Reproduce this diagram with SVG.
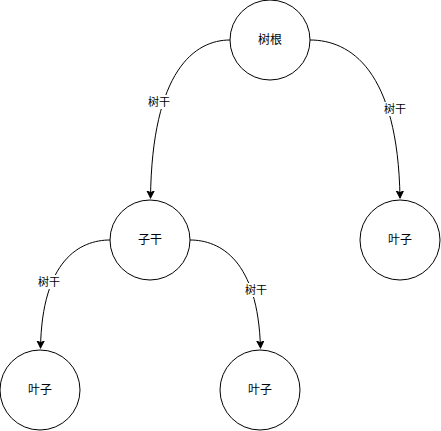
<svg xmlns="http://www.w3.org/2000/svg" width="441" height="431" viewBox="0 0 441 431">
<defs>
<marker id="arr" markerUnits="userSpaceOnUse" markerWidth="10" markerHeight="10" refX="7" refY="4" orient="auto">
<path d="M7,4 L0,0.5 L1.8,4 L0,7.5 Z" fill="#000" stroke="#000" stroke-width="1"/>
</marker>
<style>
.node circle{fill:#fff;stroke:#000;stroke-width:1}
.node text{font-family:"Liberation Sans","Noto Sans CJK SC",sans-serif;font-size:12px;fill:#000;text-anchor:middle;dominant-baseline:central}
.edge path{fill:none;stroke:#000;stroke-width:1;marker-end:url(#arr)}
.lbl rect{fill:#fff}
.lbl text{font-family:"Liberation Sans","Noto Sans CJK SC",sans-serif;font-size:11px;fill:#000;text-anchor:middle;dominant-baseline:central}
</style>
</defs>
<rect width="441" height="431" fill="#fff"/>
<g id="connectors">
<g class="edge"><path d="M230,40 C195,40 152,70 150.5,198"/></g>
<g class="edge"><path d="M310,40 C350,40 398,70 400,198"/></g>
<g class="edge"><path d="M110,240 C80,240 42,260 40.5,348"/></g>
<g class="edge"><path d="M190,240 C220,240 258,260 260.5,348"/></g>
<g class="lbl"><rect x="147" y="95" width="24" height="14"/><text x="159" y="102">树干</text></g>
<g class="lbl"><rect x="383" y="102" width="24" height="14"/><text x="395" y="109">树干</text></g>
<g class="lbl"><rect x="37" y="275" width="24" height="14"/><text x="49" y="282">树干</text></g>
<g class="lbl"><rect x="244" y="283" width="24" height="14"/><text x="256" y="290">树干</text></g>
</g>
<g id="root" class="node"><circle cx="270" cy="40" r="40"/><text x="270" y="40">树根</text></g>
<g id="trunk" class="node"><circle cx="150" cy="240" r="40"/><text x="150" y="240">子干</text></g>
<g id="leafR" class="node"><circle cx="400" cy="240" r="40"/><text x="400" y="240">叶子</text></g>
<g id="leafBL" class="node"><circle cx="40" cy="390" r="40"/><text x="40" y="390">叶子</text></g>
<g id="leafBM" class="node"><circle cx="260" cy="390" r="40"/><text x="260" y="390">叶子</text></g>
</svg>
